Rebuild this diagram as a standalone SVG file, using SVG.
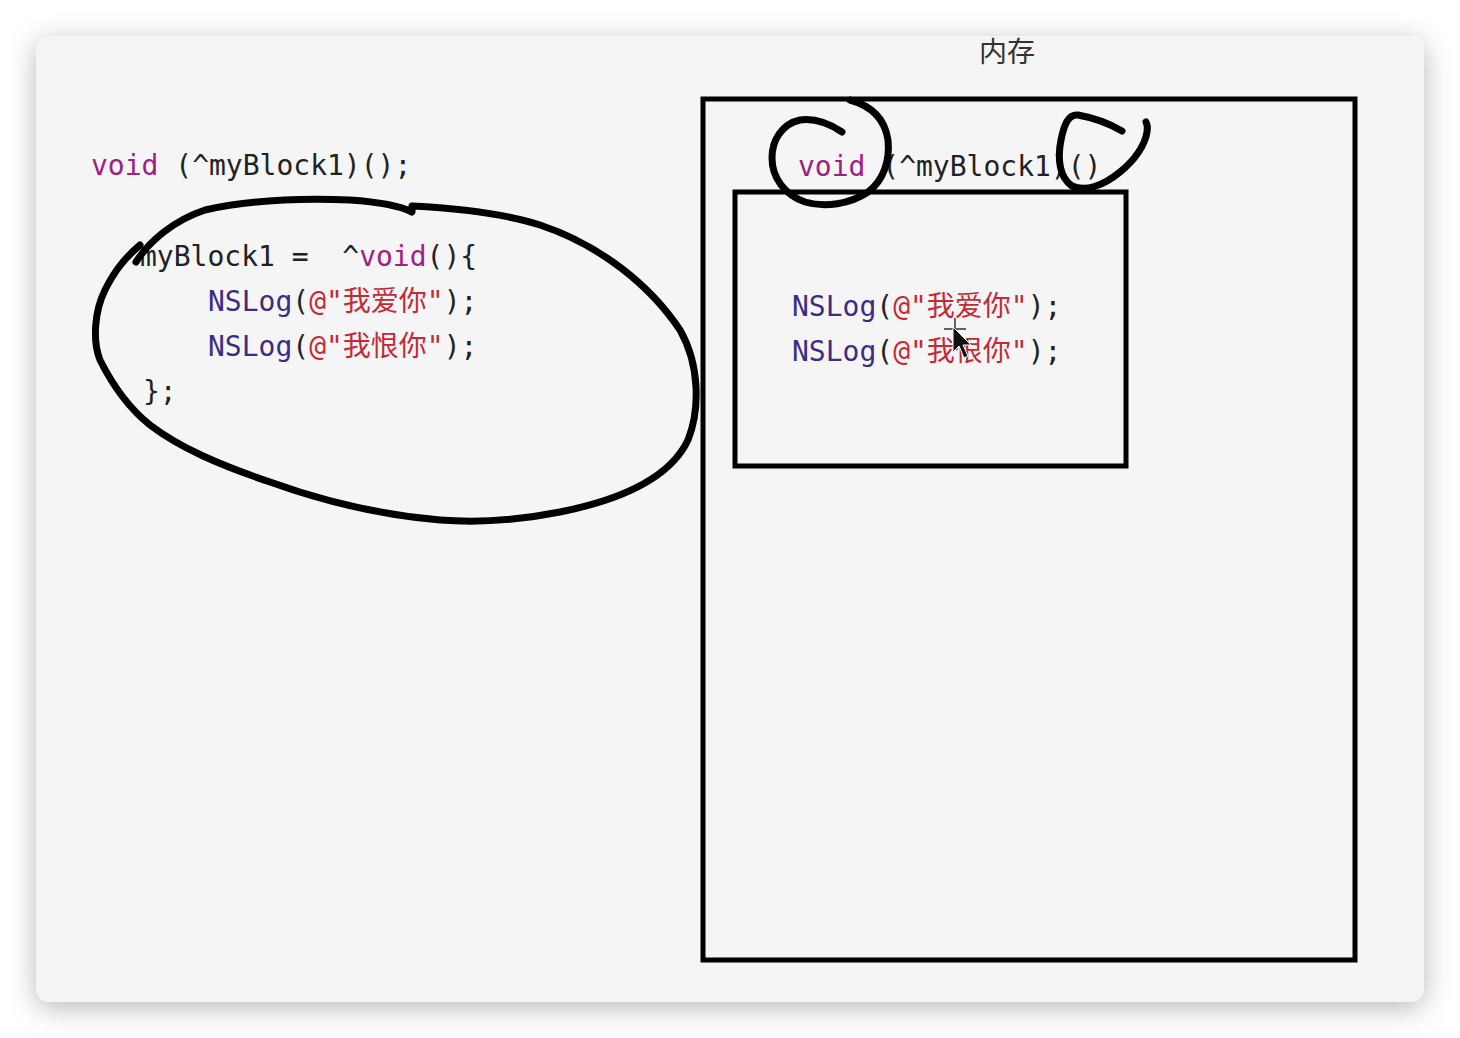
<svg xmlns="http://www.w3.org/2000/svg" width="1460" height="1038" viewBox="0 0 1460 1038">
<defs>
<filter id="shadow" x="-10%" y="-10%" width="120%" height="125%">
<feDropShadow dx="0" dy="6" stdDeviation="14" flood-color="#000" flood-opacity="0.28"/>
</filter>
<style>
.code{font-family:"DejaVu Sans Mono","Liberation Mono","Noto Sans CJK SC",monospace;font-size:28px;fill:#222;white-space:pre}
.kw{fill:#A1207F}
.fn{fill:#3B2C85}
.str{fill:#C42A36}
.title{font-family:"Noto Sans CJK SC","DejaVu Sans",sans-serif;font-size:28px;fill:#333}
.box{fill:none;stroke:#000;stroke-width:5}
.ink{fill:none;stroke:#000;stroke-width:7;stroke-linecap:round;stroke-linejoin:round}
</style>
</defs>
<rect x="0" y="0" width="1460" height="1038" fill="#ffffff"/>
<rect x="36" y="36" width="1388" height="966" rx="14" fill="#f5f5f5" filter="url(#shadow)"/>

<g id="title">
<text class="title" x="979" y="62">内存</text>
</g>

<g id="left-code">
<text class="code" x="91" y="175" xml:space="preserve"><tspan class="kw">void</tspan> (^myBlock1)();</text>
<text class="code" x="140" y="266" xml:space="preserve">myBlock1 =  ^<tspan class="kw">void</tspan>(){</text>
<text class="code" x="208" y="311" xml:space="preserve"><tspan class="fn">NSLog</tspan>(<tspan class="str">@"我爱你"</tspan>);</text>
<text class="code" x="208" y="356" xml:space="preserve"><tspan class="fn">NSLog</tspan>(<tspan class="str">@"我恨你"</tspan>);</text>
<text class="code" x="143" y="401" xml:space="preserve">};</text>
</g>

<g id="memory">
<rect class="box" x="703" y="99" width="652" height="861"/>
<text class="code" x="798" y="176" xml:space="preserve"><tspan class="kw">void</tspan> (^myBlock1)()</text>
</g>

<g id="block-body">
<rect class="box" x="735" y="192" width="391" height="274"/>
<text class="code" x="792" y="316" xml:space="preserve"><tspan class="fn">NSLog</tspan>(<tspan class="str">@"我爱你"</tspan>);</text>
<text class="code" x="792" y="361" xml:space="preserve"><tspan class="fn">NSLog</tspan>(<tspan class="str">@"我恨你"</tspan>);</text>
</g>

<g id="annotations">
<path class="ink" d="M136,262 C150,240 175,220 205,210 C250,200 300,198 350,200 C380,202 400,206 412,212 L412,206 C450,208 500,212 540,225 C600,245 650,285 680,330 C700,365 700,410 688,440 C670,478 620,500 560,512 C520,520 480,523 440,520 C380,515 320,500 270,482 C220,465 180,448 150,425 C125,405 110,380 100,360 C92,340 95,310 105,290 C115,270 125,258 140,245"/>
<path class="ink" d="M842,132 C830,124 815,118 800,120 C782,124 772,140 772,158 C772,178 785,195 805,202 C825,208 850,204 868,192 C884,180 890,160 888,140 C885,120 872,106 850,100"/>
<path class="ink" d="M1122,131 C1110,124 1095,118 1078,115 C1068,114 1064,125 1061,140 C1057,160 1060,178 1072,186 C1085,192 1103,186 1120,172 C1135,160 1145,145 1147,132 C1148,127 1147,124 1146,122"/>
</g>

<g id="cursor">
<path d="M955,318 L955,340 M944,329 L966,329" stroke="#333" stroke-width="1.5" fill="none"/>
<path d="M953,327 L953,352 L959,346 L964,358 L968,356 L963,345 L971,345 Z" fill="#111" stroke="#fff" stroke-width="1"/>
</g>
</svg>
